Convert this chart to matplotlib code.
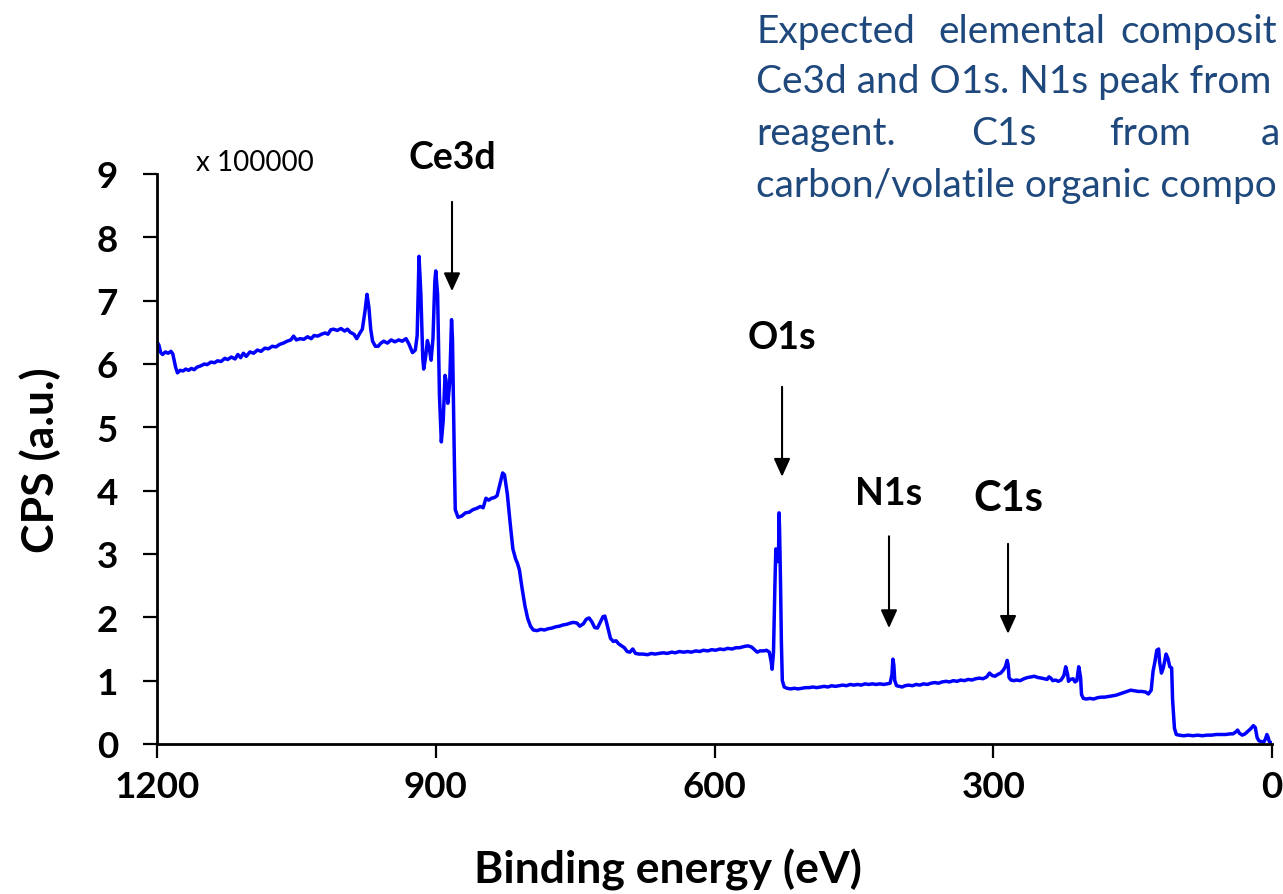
import matplotlib
matplotlib.use("Agg")
import matplotlib.pyplot as plt

plt.rcParams["font.family"] = ["Lato", "DejaVu Sans"]

# XPS survey spectrum: binding energy (eV) and counts (x 100000)
binding_energy = [
    1200, 1198, 1196, 1194, 1191, 1188, 1185, 1183, 1180, 1178, 1175, 1172, 1169, 1166,
    1163, 1160, 1157, 1153, 1149, 1146, 1142, 1138, 1135, 1131, 1127, 1124, 1120, 1116,
    1113, 1110, 1107, 1104, 1100, 1096, 1092, 1088, 1084, 1080, 1076, 1072, 1068, 1064,
    1060, 1056, 1053, 1050, 1046, 1042, 1038, 1034, 1031, 1027, 1023, 1019, 1016, 1013,
    1010, 1006, 1002, 998, 995, 992, 988, 985, 982, 979, 976, 974, 972, 970, 968, 965,
    962, 959, 956, 952, 948, 944, 940, 936, 932, 929, 925, 922, 920, 918, 916, 914, 913,
    911, 909, 907, 905, 903, 901, 900, 898, 896, 894, 892, 890, 889, 887, 885, 883, 882,
    880, 879, 876, 872, 868, 864, 860, 856, 852, 849, 846, 843, 840, 837, 834, 831, 828,
    826, 823, 820, 817, 814, 812, 810, 807, 804, 801, 798, 795, 791, 787, 783, 779, 775,
    771, 767, 763, 759, 755, 752, 748, 745, 741, 738, 735, 732, 729, 726, 723, 720, 718,
    715, 712, 709, 706, 703, 700, 697, 694, 691, 688, 685, 681, 677, 672, 668, 664, 660,
    655, 651, 646, 642, 638, 633, 629, 625, 620, 616, 612, 607, 603, 599, 594, 590, 586,
    581, 577, 573, 568, 564, 560, 557, 554, 551, 547, 544, 541, 539, 538, 536.5, 535, 534,
    533, 532, 531, 530.5, 530, 529, 528, 527, 525, 522, 518, 514, 510, 506, 502, 498, 494,
    490, 486, 482, 478, 474, 470, 466, 462, 458, 454, 450, 446, 442, 438, 434, 430, 426,
    422, 418, 414, 411, 409, 408, 407, 406, 404, 401, 398, 395, 391, 387, 383, 379, 375,
    371, 367, 363, 359, 355, 351, 347, 343, 339, 335, 331, 327, 323, 319, 315, 311, 307,
    304, 301, 298, 295, 292, 289, 287, 285, 284, 283, 281, 278, 275, 271, 267, 263, 259,
    256, 252, 248, 245, 242, 240, 238, 236, 233, 230, 227, 224, 222, 220, 219, 217, 214,
    212, 210, 208, 206, 205, 203, 200, 196, 192, 188, 184, 180, 176, 172, 168, 164, 160,
    156, 152, 148, 144, 140, 136, 133, 130, 128, 126, 124, 122, 121, 119, 117, 114, 112,
    110, 108, 107, 105, 103, 100, 95, 90, 85, 80, 75, 70, 65, 60, 55, 50, 45, 42, 39, 37,
    35, 32, 29, 26, 23, 20, 18, 16, 14, 12, 9, 7, 5.5, 4, 3, 1, 0,
]
cps = [
    6.35, 6.30, 6.18, 6.15, 6.19, 6.17, 6.20, 6.16, 5.95, 5.86, 5.90, 5.89, 5.92, 5.90,
    5.93, 5.91, 5.95, 5.97, 6.00, 5.99, 6.03, 6.02, 6.05, 6.04, 6.09, 6.07, 6.11, 6.08,
    6.15, 6.10, 6.17, 6.12, 6.19, 6.17, 6.22, 6.20, 6.25, 6.24, 6.28, 6.27, 6.31, 6.33,
    6.36, 6.38, 6.44, 6.38, 6.40, 6.39, 6.43, 6.40, 6.45, 6.44, 6.47, 6.49, 6.47, 6.54,
    6.55, 6.53, 6.56, 6.52, 6.55, 6.50, 6.47, 6.40, 6.48, 6.55, 6.85, 7.10, 6.90, 6.55,
    6.36, 6.28, 6.28, 6.33, 6.36, 6.33, 6.38, 6.35, 6.38, 6.36, 6.40, 6.32, 6.18, 6.22,
    6.45, 7.70, 7.10, 6.10, 5.92, 6.10, 6.37, 6.25, 6.06, 6.40, 7.30, 7.47, 7.10, 5.50,
    4.77, 5.10, 5.82, 5.75, 5.38, 5.70, 6.70, 6.40, 4.50, 3.70, 3.58, 3.60, 3.65, 3.66,
    3.70, 3.72, 3.75, 3.73, 3.88, 3.85, 3.88, 3.89, 3.92, 4.10, 4.28, 4.25, 3.95, 3.50,
    3.08, 2.92, 2.85, 2.75, 2.45, 2.18, 1.98, 1.86, 1.80, 1.79, 1.81, 1.80, 1.82, 1.83,
    1.85, 1.86, 1.88, 1.89, 1.91, 1.92, 1.91, 1.86, 1.90, 1.97, 1.99, 1.93, 1.84, 1.83,
    1.92, 2.01, 2.02, 1.85, 1.67, 1.62, 1.63, 1.58, 1.55, 1.52, 1.46, 1.45, 1.50, 1.43,
    1.42, 1.42, 1.41, 1.43, 1.42, 1.43, 1.44, 1.43, 1.45, 1.44, 1.46, 1.45, 1.46, 1.45,
    1.47, 1.46, 1.48, 1.47, 1.49, 1.48, 1.50, 1.49, 1.51, 1.50, 1.52, 1.52, 1.54, 1.55,
    1.53, 1.49, 1.45, 1.47, 1.47, 1.48, 1.45, 1.30, 1.18, 1.45, 2.50, 3.08, 2.90, 2.88,
    3.10, 3.65, 3.40, 2.60, 1.60, 1.00, 0.90, 0.88, 0.87, 0.88, 0.87, 0.88, 0.89, 0.89,
    0.90, 0.89, 0.90, 0.91, 0.90, 0.92, 0.91, 0.92, 0.93, 0.92, 0.94, 0.93, 0.94, 0.93,
    0.95, 0.94, 0.95, 0.94, 0.95, 0.94, 0.95, 0.96, 1.10, 1.34, 1.25, 1.00, 0.92, 0.91,
    0.90, 0.92, 0.93, 0.92, 0.94, 0.93, 0.95, 0.94, 0.96, 0.97, 0.96, 0.98, 0.99, 0.98,
    1.00, 0.99, 1.01, 1.00, 1.02, 1.01, 1.03, 1.04, 1.03, 1.06, 1.12, 1.08, 1.07, 1.10,
    1.12, 1.17, 1.22, 1.32, 1.25, 1.05, 1.01, 1.00, 1.01, 1.00, 1.03, 1.05, 1.06, 1.07,
    1.05, 1.04, 1.03, 1.02, 1.06, 1.04, 1.00, 1.01, 0.99, 1.01, 1.08, 1.22, 1.10, 0.99,
    1.02, 1.03, 0.98, 1.00, 1.22, 1.05, 0.78, 0.72, 0.71, 0.72, 0.71, 0.73, 0.74, 0.74,
    0.75, 0.76, 0.77, 0.79, 0.81, 0.83, 0.85, 0.84, 0.83, 0.83, 0.82, 0.79, 0.85, 1.15,
    1.30, 1.48, 1.50, 1.30, 1.12, 1.20, 1.42, 1.35, 1.22, 1.20, 0.70, 0.25, 0.15, 0.14,
    0.13, 0.14, 0.13, 0.14, 0.13, 0.14, 0.14, 0.15, 0.15, 0.15, 0.16, 0.16, 0.19, 0.22,
    0.17, 0.14, 0.16, 0.20, 0.24, 0.29, 0.26, 0.10, 0.05, 0.04, 0.03, 0.08, 0.15, 0.10,
    0.04, 0.02, 0.01,
]

# Peak labels: name, energy of arrow, arrow top/bottom (x 100000), label height, font size
peak_names = ["Ce3d", "O1s", "N1s", "C1s"]
peak_energy = [882.5, 527.3, 412.2, 284.1]
arrow_top = [8.56, 5.64, 3.28, 3.16]
arrow_tip = [7.15, 4.22, 1.83, 1.74]
label_y = [9.27, 6.43, 3.96, 3.88]
label_size = [27, 27, 27, 30]

x_ticks = [1200, 900, 600, 300, 0]
y_ticks = list(range(10))

W, H = 1283, 895
fig = plt.figure(figsize=(W / 100, H / 100), dpi=100)
ax = fig.add_axes([157 / W, 1 - 745 / H, (1272 - 157) / W, (745 - 175) / H])

ax.plot(binding_energy, cps, color="#0000FF", lw=2.5, solid_joinstyle="round")

ax.set_xlim(1200, 0)
ax.set_ylim(0, 9)
ax.set_xticks(x_ticks)
ax.set_yticks(y_ticks)
for side in ("top", "right"):
    ax.spines[side].set_visible(False)
for side in ("left", "bottom"):
    ax.spines[side].set_linewidth(2.0)
ax.tick_params(axis="both", direction="out", width=1.6, length=10, colors="black")
ax.tick_params(axis="y", pad=18)
ax.tick_params(axis="x", pad=9)
for lbl in ax.get_xticklabels() + ax.get_yticklabels():
    lbl.set_fontsize(26.5)
    lbl.set_fontweight("bold")

# Axis titles
fig.text(668 / W, 1 - 870 / H, "Binding energy (eV)", fontsize=32,
         fontweight="bold", ha="center", va="center")
fig.text(40 / W, 1 - 460 / H, "CPS (a.u.)", fontsize=32, fontweight="bold",
         ha="center", va="center", rotation=90)

fig.text(196 / W, 1 - 163 / H, "x 100000", fontsize=20, ha="left", va="center")

for name, e, top, tip, ly, fs in zip(peak_names, peak_energy, arrow_top,
                                     arrow_tip, label_y, label_size):
    ax.annotate("", xy=(e, tip), xytext=(e, top),
                arrowprops=dict(arrowstyle="-|>,head_length=1.1,head_width=0.5",
                                color="black", lw=1.5, shrinkA=0, shrinkB=0),
                annotation_clip=False)
    ax.text(e, ly, name, fontsize=fs, fontweight="bold", ha="center",
            va="center", clip_on=False)

# Justified note in the upper right corner
note_color = "#1F497D"
note_lines = [
    (32, [(756, "Expected"), (938, "elemental"), (1120, "composit")]),
    (82, [(756, "Ce3d and O1s. N1s peak from")]),
    (134, [(756, "reagent."), (971, "C1s"), (1109, "from"), (1261, "a")]),
    (186, [(756, "carbon/volatile organic compo")]),
]
for py, words in note_lines:
    for px, word in words:
        fig.text(px / W, 1 - py / H, word, fontsize=28, color=note_color,
                 ha="left", va="center")

fig.savefig("out.png", dpi=100)
